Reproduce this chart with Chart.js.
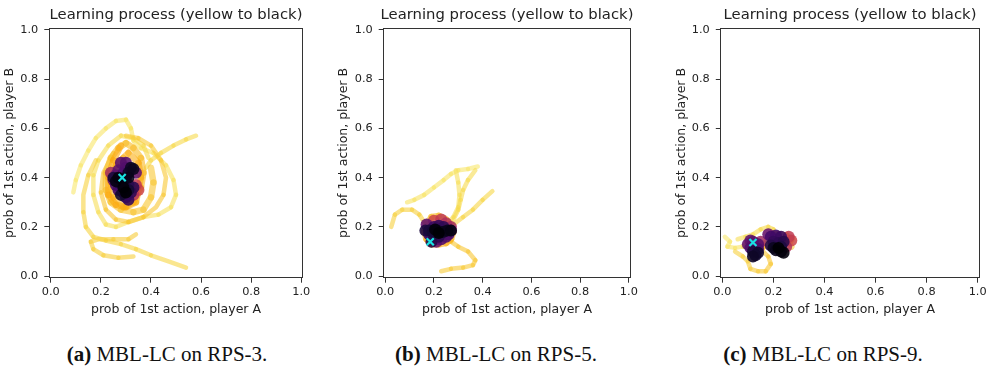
<!DOCTYPE html>
<html>
<head>
<meta charset="utf-8">
<script src="https://cdn.jsdelivr.net/npm/chart.js"></script>
<style>
  body { margin: 0; background: #fff; width: 992px; height: 371px; position: relative; overflow: hidden; }
  .panel { position: absolute; top: 0; }
  .caption { position: absolute; top: 344px; width: 320px; text-align: center; font-family: "Liberation Serif", serif; font-size: 21px; line-height: 21px; color: #111; }
</style>
</head>
<body>
<div class="panel" style="left:0px"><canvas id="c1" width="352" height="320"></canvas></div>
<div class="panel" style="left:330.6px"><canvas id="c2" width="352" height="320"></canvas></div>
<div class="panel" style="left:674.2px"><canvas id="c3" width="352" height="320"></canvas></div>
<div class="caption" style="left:7px"><b>(a)</b> MBL-LC on RPS-3.</div>
<div class="caption" style="left:336px"><b>(b)</b> MBL-LC on RPS-5.</div>
<div class="caption" style="left:663px"><b>(c)</b> MBL-LC on RPS-9.</div>
<script>
// axis ticks
const tickValues = [0, 0.2, 0.4, 0.6, 0.8, 1.0];

// ---- RPS-3 ----
// early trajectory (yellow), null = break between pieces
const trail1X = [0.09,0.10,0.12,0.15,0.18,0.22,0.26,0.30,0.32,0.33,0.36,0.41,0.46,0.49,0.50,0.48,0.43,0.37,0.31,0.26,0.22,0.19,0.17,0.17,0.19,0.23,0.28,0.33,0.37,0.39,
  null,0.58,0.54,0.49,0.44,0.40,0.38,
  null,0.54,0.47,0.40,0.34,0.28,0.22,0.17,0.14,0.13,0.13,0.15,0.18,
  null,0.33,0.27,0.21,0.17,0.16,0.19,0.25,0.31,0.34,
  null,0.30,0.35,0.40,0.44,0.46,0.45,0.42,0.37,0.31,0.26,0.22,0.20,0.21,0.25];
const trail1Y = [0.34,0.39,0.45,0.51,0.56,0.60,0.63,0.635,0.60,0.55,0.52,0.50,0.45,0.39,0.33,0.28,0.25,0.24,0.22,0.20,0.21,0.26,0.33,0.41,0.47,0.53,0.57,0.56,0.53,0.48,
  null,0.57,0.555,0.53,0.50,0.47,0.44,
  null,0.035,0.06,0.085,0.11,0.13,0.145,0.16,0.20,0.26,0.33,0.41,0.47,
  null,0.08,0.075,0.085,0.11,0.14,0.15,0.15,0.15,0.17,
  null,0.57,0.56,0.53,0.47,0.40,0.33,0.28,0.24,0.22,0.23,0.27,0.34,0.42,0.50];
// middle part (orange)
const ring1X = [0.40,0.41,0.40,0.37,0.33,0.28,0.24,0.22,0.22,0.24,0.27,0.30,0.33,0.36,0.37,0.36,0.33,0.29,0.25,0.24,0.26,0.29,
  0.31,0.35,0.36,0.34,0.30,0.26,0.23,0.23,0.25,0.28];
const ring1Y = [0.44,0.38,0.32,0.27,0.26,0.27,0.30,0.35,0.42,0.48,0.52,0.54,0.52,0.48,0.42,0.36,0.30,0.28,0.32,0.38,0.45,0.48,
  0.50,0.46,0.40,0.30,0.28,0.29,0.33,0.40,0.47,0.53];
// late part (red -> purple -> black)
const cluster1X = [0.35,0.34,0.33,0.24,0.25,0.34,
  0.26,0.27,0.28,0.30,0.30,0.29,0.28,0.26,0.27,0.29,0.30,0.31,0.32,0.33,0.31,0.29,0.27,0.25,0.30,0.31,0.28,
  0.31,0.32,0.33,0.31,0.26,0.27,0.29,0.30];
const cluster1Y = [0.35,0.37,0.33,0.42,0.39,0.42,
  0.41,0.43,0.46,0.46,0.44,0.42,0.39,0.37,0.35,0.34,0.32,0.31,0.34,0.36,0.37,0.37,0.38,0.40,0.40,0.35,0.33,
  0.42,0.44,0.435,0.40,0.385,0.40,0.36,0.34];
const eq1 = [0.285, 0.40];

// ---- RPS-5 ----
const trail2X = [0.38,0.34,0.30,0.27,0.24,0.20,0.16,0.12,0.09,
  null,0.29,0.30,0.305,0.30,0.28,0.25,
  null,0.37,0.34,0.32,0.31,0.30,0.28,
  null,0.44,0.40,0.36,0.32,0.28,0.25,
  null,0.025,0.04,0.07,0.11,0.14,0.16,0.17,
  null,0.23,0.27,0.32,0.36,0.37,0.34,0.30,0.27,0.25,0.22];
const trail2Y = [0.445,0.435,0.43,0.415,0.39,0.36,0.33,0.31,0.30,
  null,0.43,0.38,0.33,0.28,0.24,0.21,
  null,0.43,0.39,0.35,0.31,0.27,0.23,
  null,0.345,0.31,0.27,0.24,0.21,0.19,
  null,0.20,0.25,0.27,0.27,0.25,0.22,0.19,
  null,0.02,0.03,0.035,0.045,0.065,0.10,0.12,0.14,0.15,0.16];
const ring2X = [0.17,0.16,0.17,0.19,0.22,0.25,0.27,0.28,0.27,0.25,0.22,0.19,0.17];
const ring2Y = [0.15,0.18,0.21,0.24,0.245,0.23,0.21,0.18,0.15,0.135,0.13,0.13,0.15];
const cluster2X = [0.20,0.23,0.25,0.27,0.21,0.17,
  0.19,0.21,0.23,0.25,0.26,0.27,0.18,0.20,0.22,0.24,0.22,0.19,
  0.165,0.18,0.195,0.21,0.225,0.24,0.255,0.27,0.205,0.22];
const cluster2Y = [0.225,0.23,0.215,0.20,0.14,0.21,
  0.16,0.15,0.15,0.16,0.17,0.185,0.17,0.20,0.205,0.20,0.16,0.14,
  0.185,0.185,0.18,0.185,0.18,0.18,0.185,0.185,0.19,0.175];
const eq2 = [0.185, 0.14];

// ---- RPS-9 ----
const trail3X = [0.01,0.03,0.02,0.05,0.08,0.10,
  null,0.06,0.09,0.12,0.15,0.18,0.20,0.19,
  null,0.05,0.08,0.10,0.11,0.14,0.17,0.19,0.18,0.16];
const trail3Y = [0.16,0.14,0.12,0.115,0.12,0.13,
  null,0.15,0.16,0.17,0.19,0.20,0.19,0.16,
  null,0.10,0.08,0.06,0.03,0.02,0.02,0.05,0.08,0.10];
const ring3X = [0.27,0.26,0.27,0.25,0.22,0.19,0.16,0.14];
const ring3Y = [0.12,0.13,0.15,0.165,0.17,0.17,0.12,0.14];
const cluster3X = [0.27,0.26,0.25,0.15,0.18,
  0.10,0.11,0.12,0.14,0.11,0.14,0.19,0.21,0.23,0.20,0.22,0.24,0.19,0.23,
  0.12,0.13,0.14,0.12,0.20,0.21,0.23,0.24,0.22];
const cluster3Y = [0.145,0.16,0.12,0.14,0.17,
  0.13,0.145,0.14,0.13,0.115,0.11,0.16,0.165,0.16,0.14,0.135,0.14,0.125,0.12,
  0.10,0.085,0.095,0.08,0.115,0.105,0.10,0.095,0.115];
const eq3 = [0.12, 0.137];

// inferno colormap stops
const inferno = ['#000004','#160b39','#420a68','#6a176e','#932667','#bc3754','#dd513a','#f37819','#fca50a','#f6d746','#fcffa4'];
function infernoAt(t, a) {
    const p = Math.max(0, Math.min(1, t)) * 10;
    const i = Math.min(9, Math.floor(p));
    const f = p - i;
    const c0 = inferno[i], c1 = inferno[i + 1];
    const ch = k => {
        const v0 = parseInt(c0.substr(1 + 2 * k, 2), 16), v1 = parseInt(c1.substr(1 + 2 * k, 2), 16);
        return Math.round(v0 + (v1 - v0) * f);
    };
    return `rgba(${ch(0)},${ch(1)},${ch(2)},${a})`;
}
// colour along a piece of the run: t0 at the first point, t1 at the last
const ramp = (n, t0, t1, a) => idx => infernoAt(t0 + (t1 - t0) * idx / Math.max(1, n - 1), a);

const toPoints = (xs, ys) => xs.map((x, i) => ({ x: x, y: ys[i] }));

Chart.defaults.font.family = 'DejaVu Sans';
Chart.defaults.color = '#222';

function makePanel(id, trailX, trailY, ringX, ringY, clusterX, clusterY, eq, yw) {
    const trailColor = ramp(trailX.length, 0.94, 0.86, 0.6);
    const ringColor = ramp(ringX.length, 0.87, 0.8, 0.6);
    // first few points reddish, then dark purple down to black
    const clusterColor = i => i < 4 ? infernoAt(0.55 - 0.04 * i, 0.85) : ramp(clusterX.length - 4, 0.3, 0.0, 0.9)(i - 4);
    const axisFont = { family: 'DejaVu Sans', size: 12.5 };
    const tickFont = { family: 'DejaVu Sans', size: 11.3 };
    const hidden = {
        type: 'linear', min: -0.006, max: 1.006,
        ticks: { display: false },
        grid: { drawOnChartArea: false, drawTicks: false },
        border: { display: true, color: '#333', width: 1 }
    };
    new Chart(document.getElementById(id), {
        type: 'scatter',
        data: {
            datasets: [
                { data: [{ x: eq[0], y: eq[1] }], order: 0, pointStyle: 'crossRot', pointRadius: 5,
                  pointBorderColor: '#19e3e3', pointBorderWidth: 2.2, pointBackgroundColor: '#19e3e3' },
                { data: toPoints(clusterX, clusterY), order: 1, pointRadius: 6, pointBorderWidth: 0,
                  pointBackgroundColor: clusterX.map((v, i) => clusterColor(i)) },
                { data: toPoints(ringX, ringY), order: 2, showLine: true, pointRadius: 0, borderWidth: 6.5,
                  borderColor: ringColor(0), borderCapStyle: 'round', borderJoinStyle: 'round',
                  segment: { borderColor: c => ringColor(c.p0DataIndex) } },
                { data: toPoints(trailX, trailY), order: 3, showLine: true, pointRadius: 0, borderWidth: 4.5,
                  borderColor: trailColor(0), borderCapStyle: 'round', borderJoinStyle: 'round', spanGaps: false,
                  segment: { borderColor: c => trailColor(c.p0DataIndex) } }
            ]
        },
        options: {
            responsive: false,
            animation: false,
            events: [],
            layout: { padding: 0 },
            plugins: {
                legend: { display: false },
                tooltip: { enabled: false },
                title: { display: true, text: 'Learning process (yellow to black)', color: '#222',
                         font: { family: 'DejaVu Sans', size: 14.8, weight: 'normal' }, padding: { top: 6, bottom: 4.5 } }
            },
            scales: {
                x: {
                    type: 'linear', position: 'bottom', min: -0.006, max: 1.006,
                    afterBuildTicks: s => { s.ticks = tickValues.map(v => ({ value: v })); },
                    ticks: { callback: v => v.toFixed(1), font: tickFont, color: '#222', padding: 3, maxRotation: 0 },
                    grid: { drawOnChartArea: false, tickLength: 5, color: '#333' },
                    border: { color: '#333', width: 1 },
                    title: { display: true, text: 'prob of 1st action, player A', font: axisFont, color: '#222', padding: { top: 0, bottom: 2.5 } },
                    afterFit: s => { s.height = 42.3; }
                },
                y: {
                    type: 'linear', position: 'left', min: -0.006, max: 1.006,
                    afterBuildTicks: s => { s.ticks = tickValues.map(v => ({ value: v })); },
                    ticks: { callback: v => v.toFixed(1), font: tickFont, color: '#222', padding: 6 },
                    grid: { drawOnChartArea: false, tickLength: 5, color: '#333' },
                    border: { color: '#333', width: 1 },
                    title: { display: true, text: 'prob of 1st action, player B', font: axisFont, color: '#222',
                             padding: { top: Math.max(0, yw - 47.5), bottom: 0 } },
                    afterFit: s => { s.width = yw; }
                },
                x2: Object.assign({ position: 'top', afterFit: s => { s.height = 0; } }, hidden),
                y2: Object.assign({ position: 'right', afterFit: s => { s.width = yw; } }, hidden)
            }
        }
    });
}

makePanel('c1', trail1X, trail1Y, ring1X, ring1Y, cluster1X, cluster1Y, eq1, 49.3);
makePanel('c2', trail2X, trail2Y, ring2X, ring2Y, cluster2X, cluster2Y, eq2, 52.7);
makePanel('c3', trail3X, trail3Y, ring3X, ring3Y, cluster3X, cluster3Y, eq3, 46.8);
</script>
</body>
</html>
